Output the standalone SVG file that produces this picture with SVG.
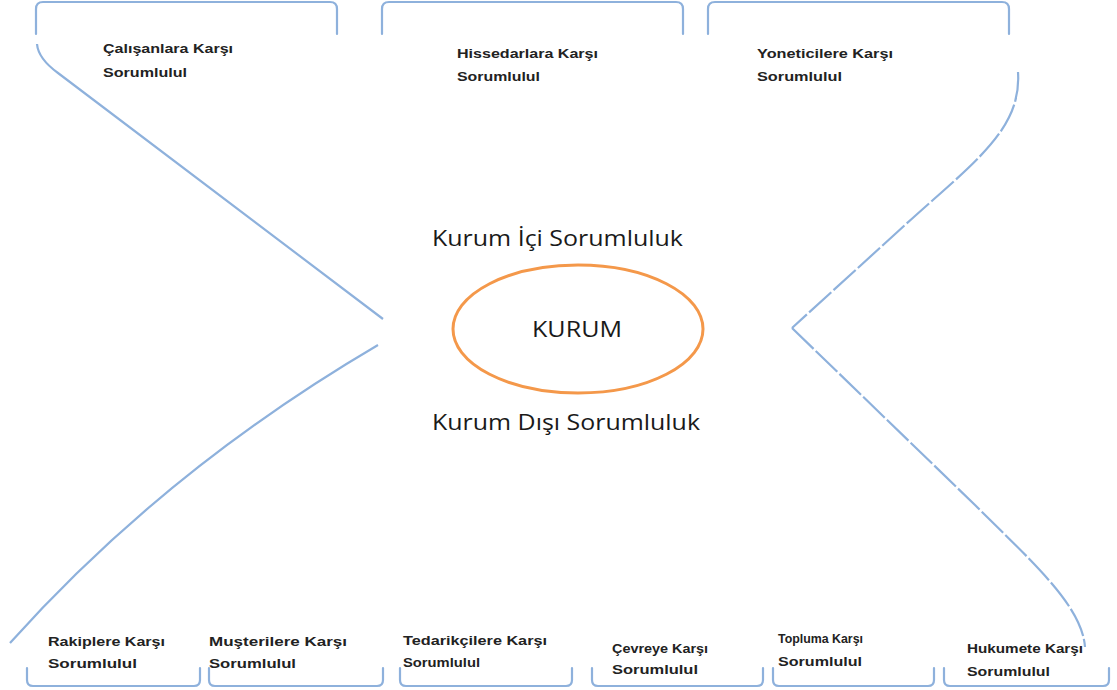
<svg xmlns="http://www.w3.org/2000/svg" width="1117" height="690" viewBox="0 0 1117 690">
<style>
.br{fill:none;stroke:#8EB1DC;stroke-width:2.2;stroke-linecap:round}
.cn{fill:none;stroke:#8EB1DC;stroke-width:2.2}
.ds{stroke-dasharray:30 3}
.lb{font-family:"Liberation Sans",Arial,sans-serif;font-weight:bold;font-size:12px;fill:#222}
.big{font-family:"Open Sans","Liberation Sans",sans-serif;font-size:21px;fill:#1a1a1a}
</style>
<rect width="1117" height="690" fill="#fff"/>
<g id="connectors">
<path class="cn" d="M37,44 C38,56 47,65 58,73 L383,319"/>
<path class="cn" d="M378,345 Q165,470 10,643"/>
<path class="cn ds" d="M1018,72 C1022,130 973,163 905,225 L792,328"/>
<path class="cn ds" d="M792,328 L975,505 C1030,560 1082,605 1085,647"/>
</g>
<g id="calisanlar">
<path class="br" d="M36,34 L36,9 Q36,2 43,2 L330,2 Q337,2 337,9 L337,34"/>
<text class="lb" x="103" y="53" textLength="130" lengthAdjust="spacingAndGlyphs">Çalışanlara Karşı</text>
<text class="lb" x="103" y="77" textLength="84" lengthAdjust="spacingAndGlyphs">Sorumlulul</text>
</g>
<g id="hissedarlar">
<path class="br" d="M382,34 L382,9 Q382,2 389,2 L676,2 Q683,2 683,9 L683,34"/>
<text class="lb" x="457" y="58" textLength="141" lengthAdjust="spacingAndGlyphs">Hissedarlara Karşı</text>
<text class="lb" x="457" y="81" textLength="83" lengthAdjust="spacingAndGlyphs">Sorumlulul</text>
</g>
<g id="yoneticiler">
<path class="br" d="M708,34 L708,9 Q708,2 715,2 L1002,2 Q1009,2 1009,9 L1009,34"/>
<text class="lb" x="757" y="58" textLength="136" lengthAdjust="spacingAndGlyphs">Yoneticilere Karşı</text>
<text class="lb" x="757" y="81" textLength="85" lengthAdjust="spacingAndGlyphs">Sorumlulul</text>
</g>
<g id="kurum">
<ellipse cx="578" cy="329" rx="125" ry="64" fill="none" stroke="#F4984A" stroke-width="3"/>
<text class="big" x="532" y="337" textLength="90" lengthAdjust="spacingAndGlyphs">KURUM</text>
</g>
<g id="kurum-ici">
<text class="big" x="432" y="246" textLength="251" lengthAdjust="spacingAndGlyphs">Kurum İçi Sorumluluk</text>
</g>
<g id="kurum-disi">
<text class="big" x="432" y="430" textLength="268" lengthAdjust="spacingAndGlyphs">Kurum Dışı Sorumluluk</text>
</g>
<g id="rakipler">
<path class="br" d="M27,668 L27,680 Q27,686 33,686 L194,686 Q200,686 200,680 L200,668"/>
<text class="lb" x="48" y="646" textLength="117" lengthAdjust="spacingAndGlyphs">Rakiplere Karşı</text>
<text class="lb" x="48" y="668" textLength="89" lengthAdjust="spacingAndGlyphs">Sorumlulul</text>
</g>
<g id="musteriler">
<path class="br" d="M209,668 L209,680 Q209,686 215,686 L377,686 Q383,686 383,680 L383,668"/>
<text class="lb" x="209" y="646" textLength="138" lengthAdjust="spacingAndGlyphs">Muşterilere Karşı</text>
<text class="lb" x="209" y="668" textLength="87" lengthAdjust="spacingAndGlyphs">Sorumlulul</text>
</g>
<g id="tedarikciler">
<path class="br" d="M400,668 L400,680 Q400,686 406,686 L566,686 Q572,686 572,680 L572,668"/>
<text class="lb" x="403" y="645" textLength="144" lengthAdjust="spacingAndGlyphs">Tedarikçilere Karşı</text>
<text class="lb" x="403" y="667" textLength="77" lengthAdjust="spacingAndGlyphs">Sorumlulul</text>
</g>
<g id="cevre">
<path class="br" d="M592,668 L592,680 Q592,686 598,686 L757,686 Q763,686 763,680 L763,668"/>
<text class="lb" x="612" y="653" textLength="96" lengthAdjust="spacingAndGlyphs">Çevreye Karşı</text>
<text class="lb" x="612" y="674" textLength="86" lengthAdjust="spacingAndGlyphs">Sorumlulul</text>
</g>
<g id="toplum">
<path class="br" d="M773,668 L773,680 Q773,686 779,686 L928,686 Q934,686 934,680 L934,668"/>
<text class="lb" x="778" y="643" textLength="85" lengthAdjust="spacingAndGlyphs">Topluma Karşı</text>
<text class="lb" x="778" y="666" textLength="84" lengthAdjust="spacingAndGlyphs">Sorumlulul</text>
</g>
<g id="hukumet">
<path class="br" d="M944,668 L944,680 Q944,686 950,686 L1103,686 Q1109,686 1109,680 L1109,668"/>
<text class="lb" x="967" y="653" textLength="116" lengthAdjust="spacingAndGlyphs">Hukumete Karşı</text>
<text class="lb" x="967" y="676" textLength="83" lengthAdjust="spacingAndGlyphs">Sorumlulul</text>
</g>
</svg>
